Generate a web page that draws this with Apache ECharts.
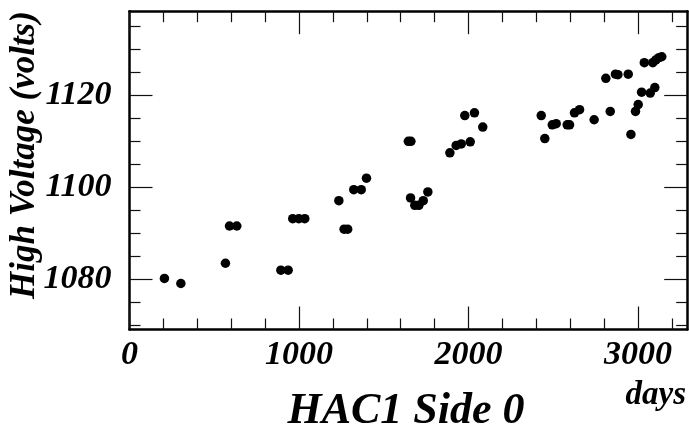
<!DOCTYPE html>
<html>
<head>
<meta charset="utf-8">
<script src="https://cdn.jsdelivr.net/npm/echarts@6/dist/echarts.min.js"></script>
<style>
html,body{margin:0;padding:0;background:#fff;}
#chart{width:689px;height:433px;}
</style>
</head>
<body>
<div id="chart"></div>
<script>
// Data
var days  = [206, 303, 566, 590, 633, 893, 936, 963, 999, 1034,
             1235, 1266, 1287, 1323, 1367, 1398, 1645, 1660, 1658, 1683,
             1707, 1733, 1760, 1890, 1927, 1957, 1978, 2010, 2035, 2084,
             2429, 2450, 2494, 2517, 2582, 2596, 2625, 2655, 2741, 2810,
             2836, 2867, 2881, 2942, 2958, 2985, 3001, 3021, 3037, 3072,
             3099, 3087, 3105, 3123, 3140];
var volts = [1080.1, 1079.0, 1083.4, 1091.5, 1091.5, 1081.9, 1081.9, 1093.1, 1093.1, 1093.1,
             1097.0, 1090.8, 1090.8, 1099.4, 1099.4, 1101.9, 1109.9, 1109.9, 1097.6, 1096.0,
             1096.0, 1097.0, 1098.9, 1107.4, 1109.0, 1109.35, 1115.5, 1109.8, 1116.1, 1113.0,
             1115.5, 1110.5, 1113.5, 1113.75, 1113.5, 1113.5, 1116.1, 1116.8, 1114.6, 1123.6,
             1116.4, 1124.5, 1124.4, 1124.5, 1111.4, 1116.4, 1117.9, 1120.6, 1127.0, 1120.4,
             1121.6, 1127.0, 1127.6, 1128.1, 1128.3];

var xMajorTicks = [0, 1000, 2000, 3000];
var xMinorTicks = [200, 400, 600, 800, 1200, 1400, 1600, 1800, 2200, 2400, 2600, 2800, 3200];
var yMajorTicks = [1080, 1100, 1120];
var yMinorTicks = [1070, 1075, 1085, 1090, 1095, 1105, 1110, 1115, 1125, 1130, 1135];

var xTitle = 'HAC1 Side 0';
var xUnit = 'days';
var yTitle = 'High Voltage (volts)';

var X_MIN = 0, X_MAX = 3290, Y_MIN = 1069, Y_MAX = 1138.2;

var FONT = '"Liberation Serif", "Times New Roman", serif';
var points = days.map(function (d, i) { return [d, volts[i]]; });

function makeX(position, ticks, len, withLine, withLabels) {
  return {
    type: 'value', position: position, min: X_MIN, max: X_MAX,
    splitLine: {show: false},
    axisLine: {show: withLine, onZero: false, lineStyle: {color: '#000', width: 2.5}},
    axisTick: {show: true, inside: true, length: len, customValues: ticks,
               lineStyle: {color: '#111', width: 1.2}},
    axisLabel: withLabels ? {
      show: true, customValues: ticks, margin: 9,
      fontFamily: FONT, fontWeight: 'bold', fontStyle: 'italic', fontSize: 34, color: '#000',
      formatter: function (v) { return String(v); }
    } : {show: false}
  };
}
function makeY(position, ticks, len, withLine, withLabels) {
  return {
    type: 'value', position: position, min: Y_MIN, max: Y_MAX,
    splitLine: {show: false},
    axisLine: {show: withLine, onZero: false, lineStyle: {color: '#000', width: 2.5}},
    axisTick: {show: true, inside: true, length: len, customValues: ticks,
               lineStyle: {color: '#111', width: 1.2}},
    axisLabel: withLabels ? {
      show: true, customValues: ticks, margin: 18,
      fontFamily: FONT, fontWeight: 'bold', fontStyle: 'italic', fontSize: 34, color: '#000',
      formatter: function (v) { return String(v); }
    } : {show: false}
  };
}

var chart = echarts.init(document.getElementById('chart'), null, {renderer: 'canvas'});
chart.setOption({
  animation: false,
  backgroundColor: '#fff',
  grid: {left: 129.5, right: 1.8, top: 11.2, bottom: 103.5, containLabel: false},
  xAxis: [
    makeX('bottom', xMajorTicks, 23, true, true),
    makeX('bottom', xMinorTicks, 11, false, false),
    makeX('top', xMajorTicks, 23, true, false),
    makeX('top', xMinorTicks, 11, false, false)
  ],
  yAxis: [
    makeY('left', yMajorTicks, 23, true, true),
    makeY('left', yMinorTicks, 11, false, false),
    makeY('right', yMajorTicks, 23, true, false),
    makeY('right', yMinorTicks, 11, false, false)
  ],
  series: [{
    type: 'scatter', xAxisIndex: 0, yAxisIndex: 0,
    data: points, symbol: 'circle', symbolSize: 9.5,
    itemStyle: {color: '#000', opacity: 1}
  }],
  graphic: [
    {type: 'text', x: 406, y: 412,
     style: {text: xTitle, fontFamily: FONT, fontWeight: 'bold', fontStyle: 'italic',
             fontSize: 44, fill: '#000', align: 'center', verticalAlign: 'middle'}},
    {type: 'text', x: 686, y: 395,
     style: {text: xUnit, fontFamily: FONT, fontWeight: 'bold', fontStyle: 'italic',
             fontSize: 33, fill: '#000', align: 'right', verticalAlign: 'middle'}},
    {type: 'text', x: 25, y: 155, rotation: Math.PI / 2,
     style: {text: yTitle, fontFamily: FONT, fontWeight: 'bold', fontStyle: 'italic',
             fontSize: 35, fill: '#000', align: 'center', verticalAlign: 'middle'}}
  ]
});
</script>
</body>
</html>
